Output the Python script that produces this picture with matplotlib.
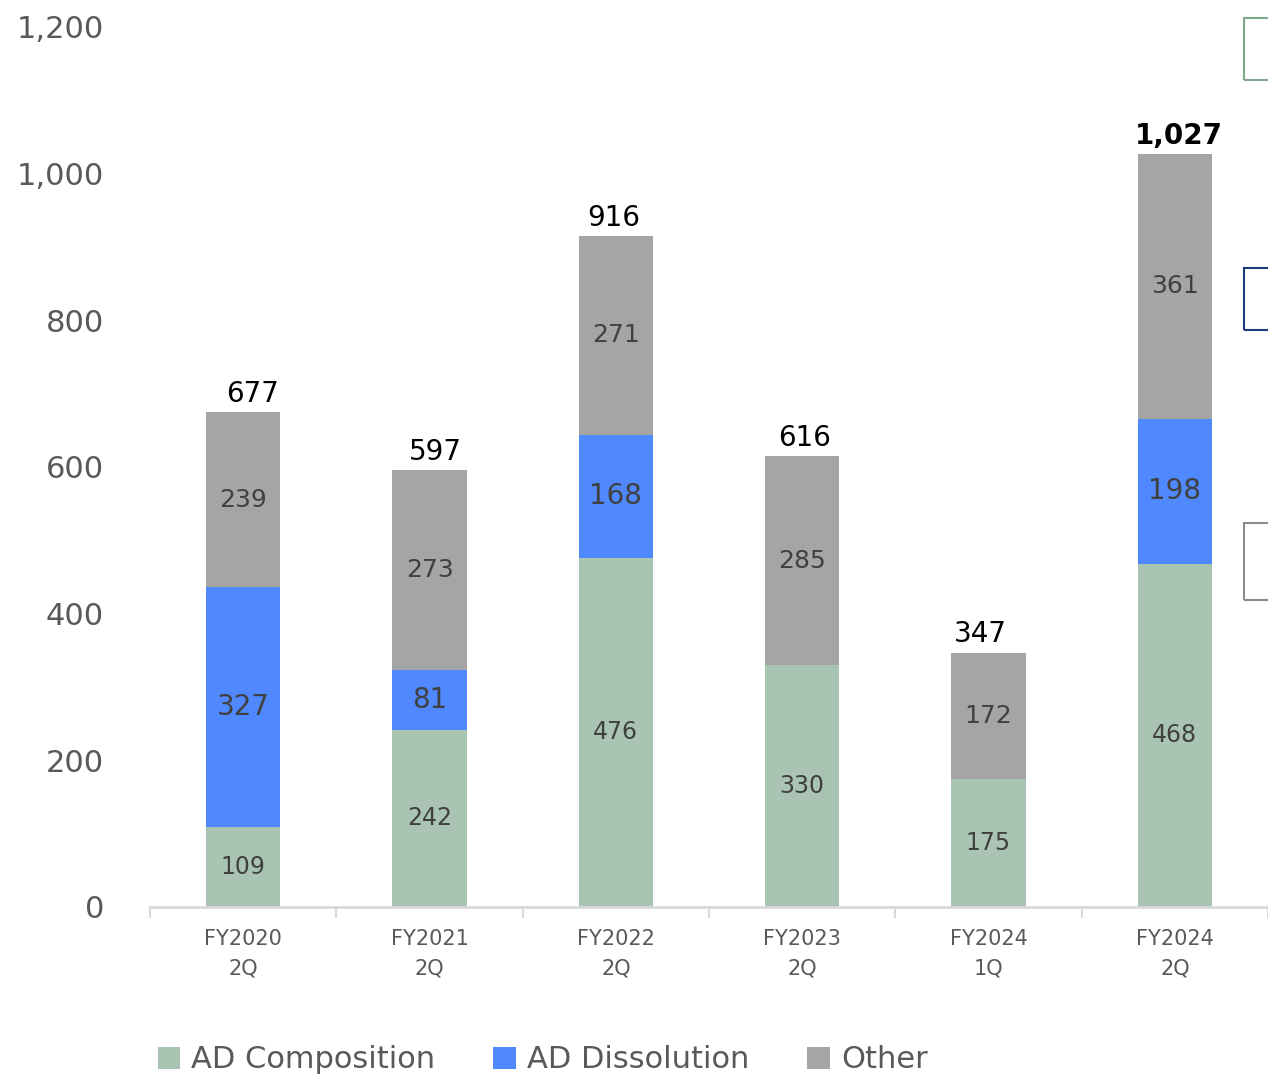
#!/usr/bin/env python3
"""Stacked bars of AD composition / dissolution / other, FY2020 2Q .. FY2024 2Q.

Creates out.png
"""

import matplotlib
matplotlib.use("Agg")
import matplotlib.pyplot as plt
from matplotlib.patches import Rectangle
from matplotlib.ticker import FuncFormatter

periods = ["FY2020\n2Q", "FY2021\n2Q", "FY2022\n2Q", "FY2023\n2Q", "FY2024\n1Q", "FY2024\n2Q"]
ad_composition = [109, 242, 476, 330, 175, 468]
ad_dissolution = [327, 81, 168, 0, 0, 198]
other = [239, 273, 271, 285, 172, 361]
totals = [677, 597, 916, 616, 347, 1027]

GREEN = "#a9c4b3"
BLUE = "#4f88ff"
GRAY = "#a5a5a5"
TEXT = "#595959"
INNER = "#404040"

# horizontal nudges (points) of the total labels, as placed in the original
total_shift = [7, 4, -1.5, 2, -6, 3]

plt.rcParams['font.family'] = ['DejaVu Sans']

fig = plt.figure(figsize=(12.68, 10.74), dpi=100)
ax = fig.add_axes([150 / 1268, 1 - 907 / 1074, 1 - 150 / 1268, (907 - 27) / 1074])

xs = list(range(len(periods)))
width = 0.4

bottom2 = [a + b for a, b in zip(ad_composition, ad_dissolution)]
ax.bar(xs, ad_composition, width, color=GREEN, label="AD Composition")
ax.bar(xs, ad_dissolution, width, bottom=ad_composition, color=BLUE, label="AD Dissolution")
ax.bar(xs, other, width, bottom=bottom2, color=GRAY, label="Other")

# segment labels
for x, g, b, o, base in zip(xs, ad_composition, ad_dissolution, other, bottom2):
    ax.text(x, g / 2, str(g), ha='center', va='center', fontsize=17, color=INNER)
    if b > 0:
        ax.text(x, g + b / 2, str(b), ha='center', va='center', fontsize=20, color=INNER)
    ax.text(x, base + o / 2, str(o), ha='center', va='center', fontsize=18, color=INNER)

# totals
for i, (x, t, base, o) in enumerate(zip(xs, totals, bottom2, other)):
    last = i == len(xs) - 1
    ax.annotate("{:,}".format(t), (x, base + o),
                xytext=(total_shift[i], 3), textcoords='offset points', ha='center', va='bottom',
                fontsize=20, color='black', fontweight='bold' if last else 'normal')

ax.set_xlim(-0.5, len(periods) - 0.5)
ax.set_ylim(0, 1200)
ax.set_yticks(range(0, 1201, 200))
ax.yaxis.set_major_formatter(FuncFormatter(lambda v, p: "{:,}".format(int(v))))
ax.tick_params(axis='y', length=0, labelsize=22, labelcolor=TEXT, pad=33)

ax.set_xticks(xs)
ax.set_xticklabels(periods, fontsize=15, color=TEXT, linespacing=1.55)
ax.set_xticks([x - 0.5 for x in range(len(periods) + 1)], minor=True)
ax.tick_params(axis='x', which='major', length=0, pad=16)
ax.tick_params(axis='x', which='minor', length=8, width=1.5, color='#d9d9d9', direction='out')

for side in ['top', 'right', 'left']:
    ax.spines[side].set_visible(False)
ax.spines['bottom'].set_color('#d9d9d9')
ax.spines['bottom'].set_linewidth(2)

handles, labels = ax.get_legend_handles_labels()
fig.legend(handles, labels, loc='lower left', bbox_to_anchor=(130 / 1268, -0.026), ncol=3,
           frameon=False, fontsize=22, labelcolor=TEXT, handlelength=0.75, handleheight=0.75,
           handletextpad=0.35, columnspacing=1.9)

# partial boxes cut off at the right edge
for y0, y1, col in [(18, 80, '#7fa88c'), (268, 330, '#1f3a7a'), (523, 600, '#8c8c8c')]:
    fig.patches.append(Rectangle((1244 / 1268, 1 - y1 / 1074), 0.05, (y1 - y0) / 1074,
                                 transform=fig.transFigure, fill=False, edgecolor=col,
                                 linewidth=1.5))

plt.savefig('out.png', format='png', dpi=100)
plt.close(fig)
